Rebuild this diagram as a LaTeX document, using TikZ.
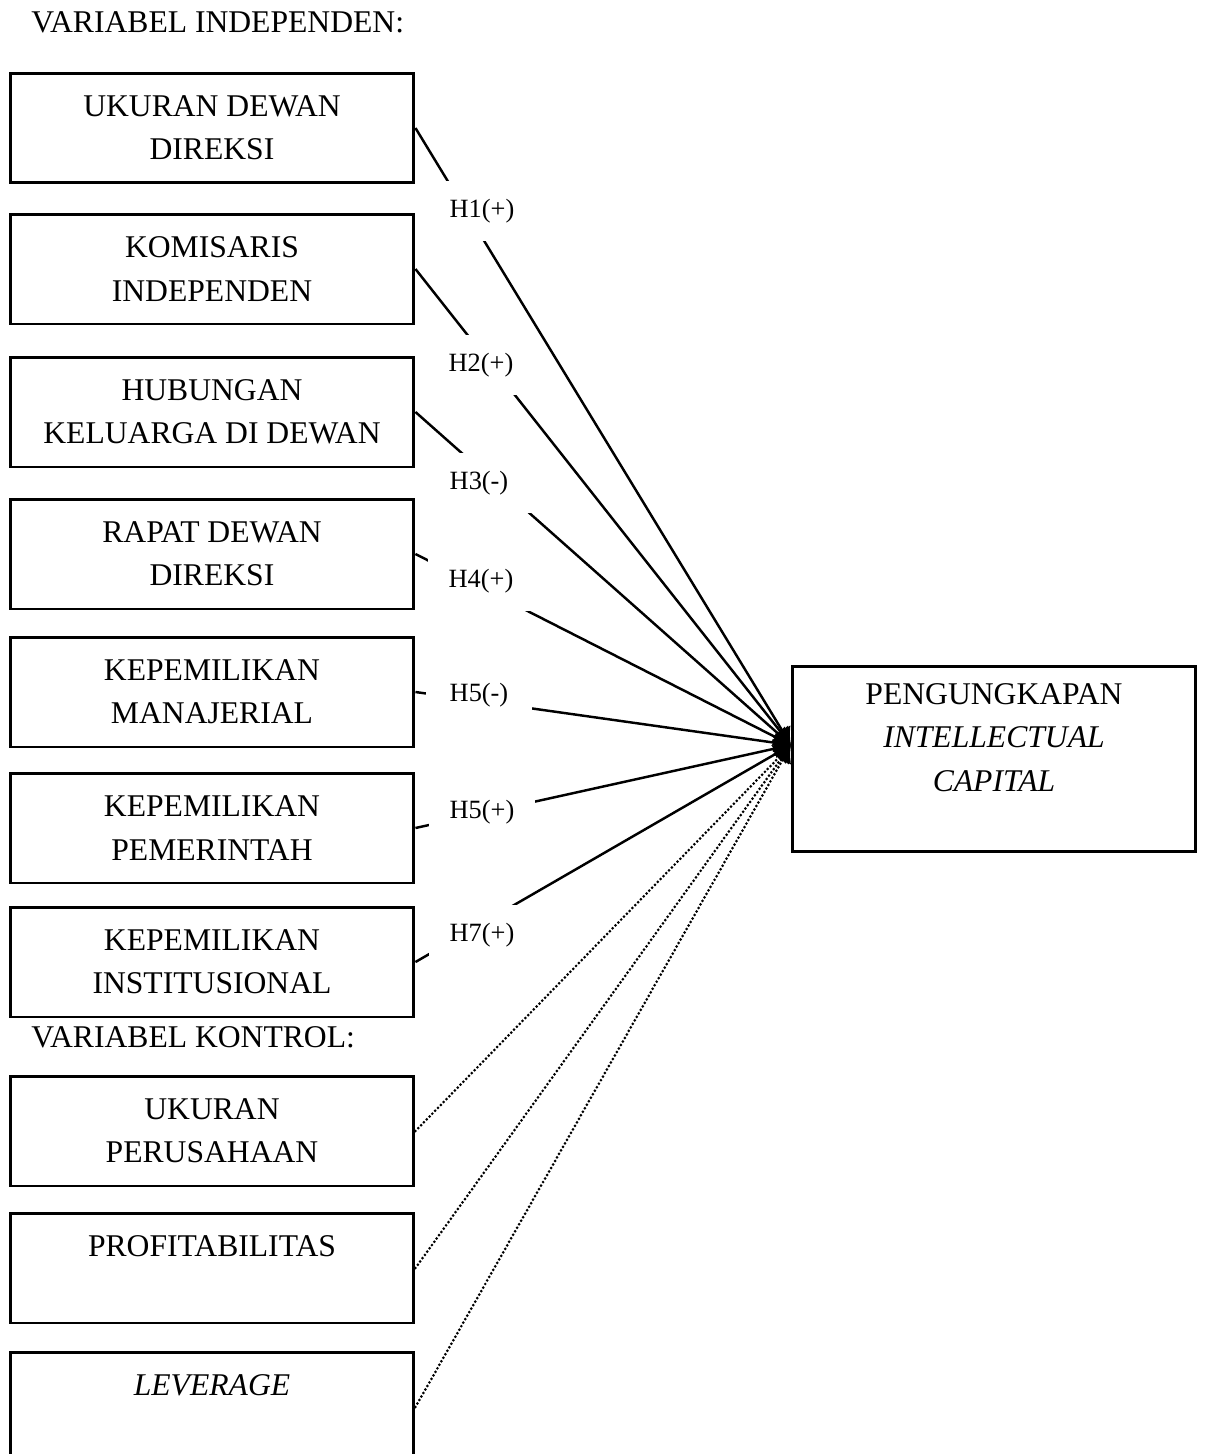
\documentclass[tikz,border=0pt]{standalone}
\usepackage{fontspec}
\setmainfont{Liberation Serif}
\usepackage{tikz}
\usetikzlibrary{arrows.meta}
\usetikzlibrary{positioning}
\tikzset{
  varbox/.style={draw,line width=1.7pt,minimum width=8.08cm,minimum height=2.2cm,inner sep=0pt,align=center,font=\fontsize{18}{24.6}\selectfont},
  hyplabel/.style={fill=white,minimum width=2.14cm,minimum height=1.2cm,inner sep=0pt,font=\fontsize{15}{18}\selectfont},
  headline/.style={anchor=base west,inner sep=0pt,font=\fontsize{18}{22}\selectfont},
  link/.style={line width=1.4pt,-{Latex[length=0.34cm,width=0.4cm]}},
  ctrl/.style={link,line width=1.7pt,line cap=round,dash pattern=on 0pt off 2.3pt}
}

\begin{document}
\begin{tikzpicture}[x=0.02cm,y=-0.02cm]
\useasboundingbox (0,0) rectangle (1206,1454);
\node[headline] (indep) at (31,32) {VARIABEL INDEPENDEN:};
\node[varbox] (b1) at (212,128) {UKURAN DEWAN\\DIREKSI};
\node[varbox] (b2) at (212,269) {KOMISARIS\\INDEPENDEN};
\node[varbox] (b3) at (212,412) {HUBUNGAN\\KELUARGA DI DEWAN};
\node[varbox] (b4) at (212,554) {RAPAT DEWAN\\DIREKSI};
\node[varbox] (b5) at (212,692) {KEPEMILIKAN\\MANAJERIAL};
\node[varbox] (b6) at (212,828) {KEPEMILIKAN\\PEMERINTAH};
\node[varbox] (b7) at (212,962) {KEPEMILIKAN\\INSTITUSIONAL};
\node[headline] (kontrol) at (31,1047) {VARIABEL KONTROL:};
\node[varbox] (b8) at (212,1131) {UKURAN\\PERUSAHAAN};
\node[varbox] (b9) at (212,1268) {PROFITABILITAS\\\mbox{}};
\node[varbox] (b10) at (212,1407) {\textit{LEVERAGE}\\\mbox{}};
\node[varbox,minimum height=3.72cm] (dv) at (994,759) {PENGUNGKAPAN\\\textit{INTELLECTUAL}\\\textit{CAPITAL}\\\mbox{}};
\coordinate (hub) at (791,745);
\foreach \i in {1,...,7}
\draw[link] (b\i.east) -- (hub);
\foreach \i in {8,9,10}
\draw[ctrl] (b\i.east) -- (hub);
\node[hyplabel] (h1) at (482,211) {H1(+)};
\node[hyplabel] (h2) at (481,365) {H2(+)};
\node[hyplabel] (h3) at (479,483) {H3(-)};
\node[hyplabel] (h4) at (481,581) {H4(+)};
\node[hyplabel] (h5) at (479,695) {H5(-)};
\node[hyplabel] (h6) at (482,812) {H5(+)};
\node[hyplabel] (h7) at (482,935) {H7(+)};
\end{tikzpicture}
\end{document}
